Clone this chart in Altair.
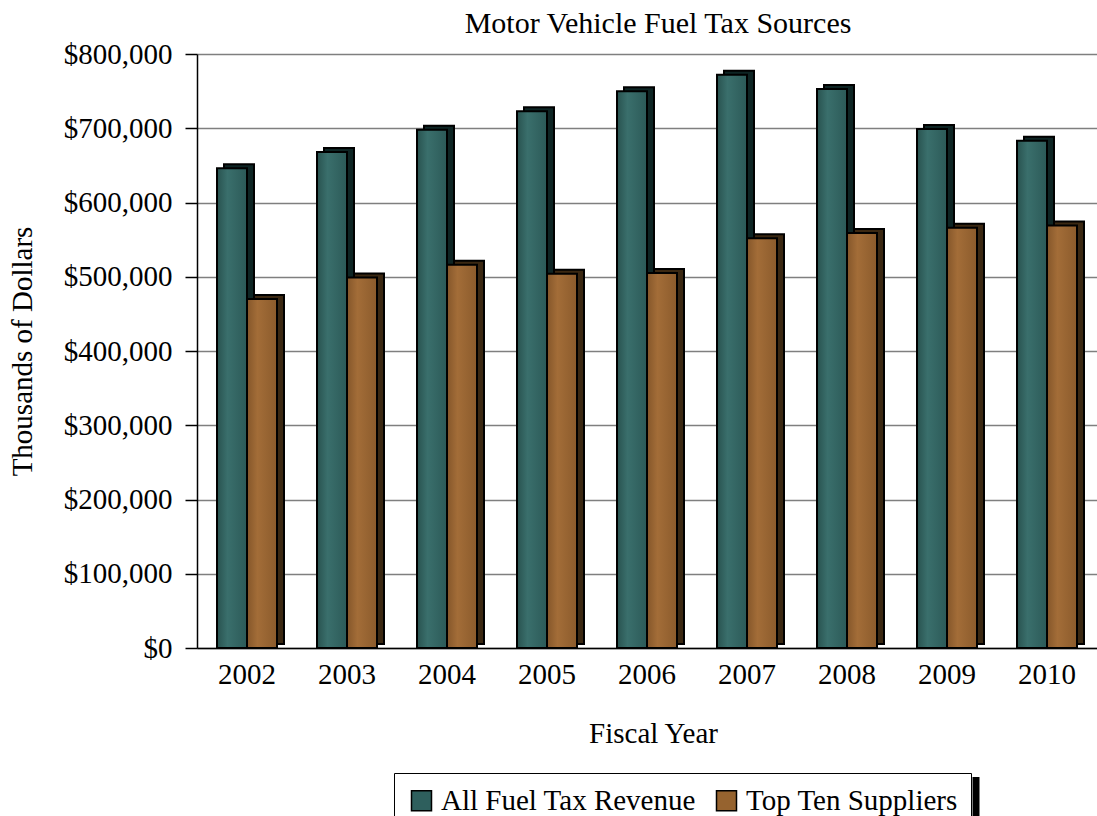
import altair as alt
import pandas as pd

years = ["2002", "2003", "2004", "2005", "2006", "2007", "2008", "2009", "2010"]
all_fuel = [646000, 668000, 698000, 723000, 750000, 772000, 753000, 699000, 683000]
top_ten = [470000, 499000, 516000, 504000, 505000, 552000, 559000, 566000, 569000]
series_names = ["All Fuel Tax Revenue", "Top Ten Suppliers"]
chart_title = "Motor Vehicle Fuel Tax Sources"
front_colors = ["#2e5f5d", "#96632f"]
side_colors = ["#0e2524", "#3b2812"]
gradient_stops = [
    ["#28524f", "#3a6f6c", "#2c5a58"],
    ["#84562a", "#a36d38", "#8b5b2c"],
]

rows = []
for i, y in enumerate(years):
    rows.append({"year": y, "series": series_names[0], "value": all_fuel[i]})
    rows.append({"year": y, "series": series_names[1], "value": top_ten[i]})
df = pd.DataFrame(rows)

FONT = "Liberation Serif"

x_enc = alt.X(
    "year:N",
    sort=years,
    scale=alt.Scale(paddingInner=0.4, paddingOuter=0.2),
    axis=alt.Axis(
        title="Fiscal Year",
        labelAngle=0,
        ticks=False,
        labelPadding=12,
        labelFontSize=29,
        labelFont=FONT,
        titleFont=FONT,
        titleFontSize=29,
        titleFontWeight="normal",
        titleX=456,
        titleY=85,
        titleBaseline="middle",
        titleAlign="center",
        domainColor="black",
        domainWidth=1.5,
        grid=False,
    ),
)
y_enc = alt.Y(
    "value:Q",
    scale=alt.Scale(domain=[0, 800000], nice=False),
    axis=alt.Axis(
        title="Thousands of Dollars",
        values=[0, 100000, 200000, 300000, 400000, 500000, 600000, 700000, 800000],
        format="$,.0f",
        tickSize=12,
        tickColor="black",
        tickWidth=1.5,
        labelPadding=13,
        labelFontSize=29,
        labelFont=FONT,
        titleFont=FONT,
        titleFontSize=29,
        titleFontWeight="normal",
        titleAngle=-90,
        titleX=-175,
        titleY=297,
        titleBaseline="middle",
        titleAlign="center",
        domainColor="black",
        domainWidth=1.5,
        grid=True,
        gridColor="#7f7f7f",
        gridWidth=1.5,
    ),
)

color_scale = alt.Scale(domain=series_names, range=front_colors)
legend = alt.Legend(
    title=None,
    orient="none",
    legendX=197,
    legendY=719,
    direction="horizontal",
    symbolType="square",
    symbolSize=400,
    symbolStrokeColor="black",
    symbolStrokeWidth=1.5,
    symbolOpacity=1,
    labelFont=FONT,
    labelFontSize=29,
    labelLimit=400,
    labelOffset=5,
    columnPadding=16,
    padding=13,
    strokeColor="black",
    fillColor="white",
)

BW = 30
DX = 7
DY = 4

layers = []
# invisible layer that only carries the legend
layers.append(
    alt.Chart(df)
    .mark_bar(width=1, opacity=0)
    .encode(x=x_enc, y=y_enc, color=alt.Color("series:N", scale=color_scale, legend=legend))
)
# side / back faces
for k, name in enumerate(series_names):
    shift = -BW / 2 if k == 0 else BW / 2
    layers.append(
        alt.Chart(df)
        .transform_filter(alt.datum.series == name)
        .mark_bar(
            width=BW,
            xOffset=shift + DX,
            yOffset=-DY,
            fill=side_colors[k],
            stroke="black",
            strokeWidth=2,
        )
        .encode(x=x_enc, y=y_enc)
    )
# front faces with a soft horizontal gradient
for k, name in enumerate(series_names):
    shift = -BW / 2 if k == 0 else BW / 2
    grad = alt.LinearGradient(
        gradient="linear",
        x1=0, x2=1, y1=0, y2=0,
        stops=[
            alt.GradientStop(offset=0, color=gradient_stops[k][0]),
            alt.GradientStop(offset=0.35, color=gradient_stops[k][1]),
            alt.GradientStop(offset=1, color=gradient_stops[k][2]),
        ],
    )
    layers.append(
        alt.Chart(df)
        .transform_filter(alt.datum.series == name)
        .mark_bar(width=BW, xOffset=shift, fill=grad, stroke="black", strokeWidth=2)
        .encode(x=x_enc, y=y_enc)
    )

# drop shadow on the right edge of the legend box
shadow = alt.Chart(pd.DataFrame({"k": [0]})).mark_rule(color="black", strokeWidth=7).encode(
    x=alt.value(779), y=alt.value(723), y2=alt.value(770)
)
layers.append(shadow)

# chart title as a text mark above the plot
title_text = alt.Chart(pd.DataFrame({"t": [chart_title]})).mark_text(
    font=FONT, fontSize=30, align="center", baseline="alphabetic", color="black"
).encode(text="t:N", x=alt.value(461), y=alt.value(-21))
layers.append(title_text)

chart = (
    alt.layer(*layers)
    .properties(
        width=900,
        height=594,
        autosize=alt.AutoSizeParams(type="none"),
        padding={"left": 197, "top": 54, "right": 0, "bottom": 168},
    )
    .configure(font=FONT)
    .configure_view(stroke=None)
    .configure_axis(labelColor="black", titleColor="black")
    .configure_legend(labelColor="black")
)

chart.save("out.html", embed_options={"renderer": "svg", "actions": False})
